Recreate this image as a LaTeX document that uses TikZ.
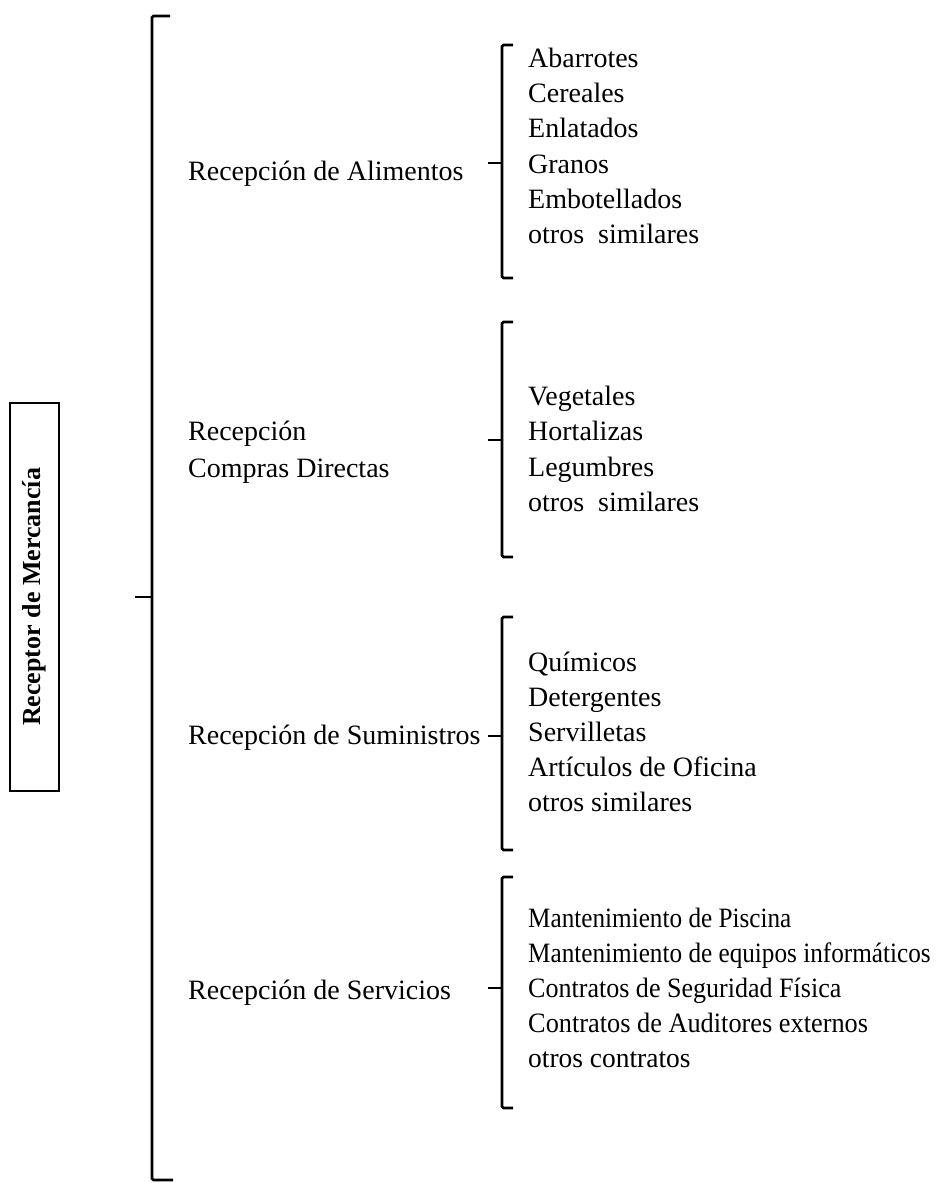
\documentclass[tikz,border=0pt]{standalone}
\usepackage{fontspec}
\setmainfont{Liberation Serif}
\usepackage{graphicx}
\begin{document}
\begin{tikzpicture}[x=1pt,y=-1pt,
  txt/.style={anchor=base west,inner sep=0pt,font=\fontsize{28}{35}\selectfont},
  brace/.style={line width=2.7pt,rounded corners=1.5pt},
  tick/.style={line width=2.7pt}]
\useasboundingbox (0,0) rectangle (940,1183);
% left box
\node[draw,line width=2pt,minimum width=49pt,minimum height=388pt,inner sep=0pt] (box) at (34.5,597) {};
\node[rotate=90,font=\fontsize{26}{30}\selectfont\bfseries,inner sep=0pt] (boxtxt) at (box.center) {Receptor de Mercancía};
% big brace
\coordinate (bigtop) at (152,16);
\coordinate (bigbot) at (152,1180);
\coordinate (bigmid) at (152,597);
\coordinate (bigtick) at (135,597);
\draw[brace] (170,16) -- (bigtop) -- (bigbot) -- (173,1180);
\draw[tick] (bigtick) -- (bigmid);
% main labels
\node[txt] (alim) at (188,180) {Recepción de Alimentos};
\node[txt] (comp1) at (188,440) {Recepción};
\node[txt] (comp2) at (188,477) {Compras Directas};
\node[txt] (sumi) at (188,744) {Recepción de Suministros};
\node[txt] (serv) at (188,999) {Recepción de Servicios};
% small braces
\foreach \t/\b/\m/\n in {45/278/163/a, 322/557/440/b, 617/850/736/c, 877/1108/988/d}{
  \draw[brace] (513,\t) -- (502,\t) -- (502,\b) -- (513,\b);
  \coordinate (tick\n) at (488,\m);
  \draw[tick] (tick\n) -- (502,\m);
}
% items: Alimentos
\node[txt] (a1) at (528,67) {Abarrotes};
\node[txt] (a2) at (528,102) {Cereales};
\node[txt] (a3) at (528,137) {Enlatados};
\node[txt] (a4) at (528,173) {Granos};
\node[txt] (a5) at (528,208) {Embotellados};
\node[txt] (a6) at (528,243) {otros\ \ similares};
% Compras
\node[txt] (b1) at (528,405) {Vegetales};
\node[txt] (b2) at (528,440) {Hortalizas};
\node[txt] (b3) at (528,476) {Legumbres};
\node[txt] (b4) at (528,511) {otros\ \ similares};
% Suministros
\node[txt] (c1) at (528,671) {Químicos};
\node[txt] (c2) at (528,706) {Detergentes};
\node[txt] (c3) at (528,741) {Servilletas};
\node[txt] (c4) at (528,776) {Artículos de Oficina};
\node[txt] (c5) at (528,811) {otros similares};
% Servicios
\node[txt] (d1) at (528,927) {\scalebox{0.90}[1]{Mantenimiento de Piscina}};
\node[txt] (d2) at (528,962) {\scalebox{0.90}[1]{Mantenimiento de equipos informáticos}};
\node[txt] (d3) at (528,997) {\scalebox{0.93}[1]{Contratos de Seguridad Física}};
\node[txt] (d4) at (528,1032) {\scalebox{0.94}[1]{Contratos de Auditores externos}};
\node[txt] (d5) at (528,1067) {\scalebox{0.98}[1]{otros contratos}};
\end{tikzpicture}
\end{document}
